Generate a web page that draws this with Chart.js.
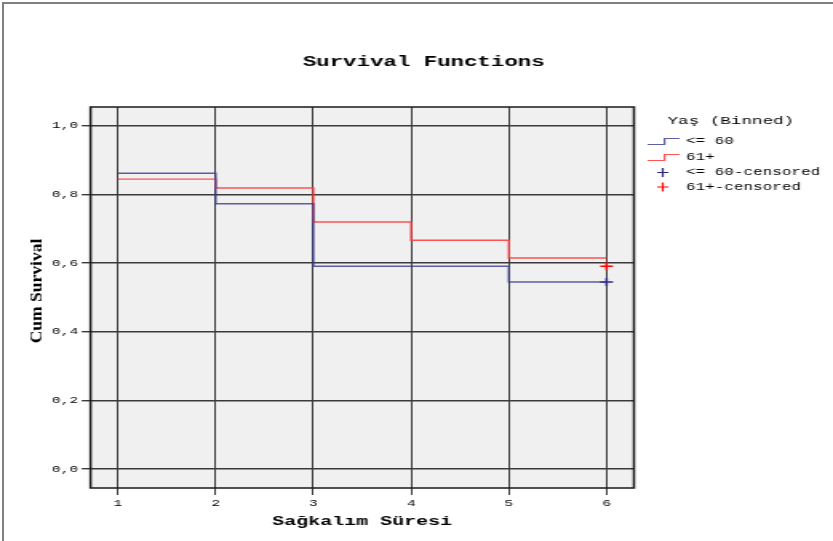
<!DOCTYPE html>
<html>
<head>
<meta charset="utf-8">
<script src="https://cdn.jsdelivr.net/npm/chart.js@4.4.0/dist/chart.umd.min.js"></script>
<style>
  html, body { margin: 0; padding: 0; background: #fff; overflow: hidden; }
  #frame { position: absolute; left: 2px; top: 2px; width: 831px; height: 539px;
           border-top: 2px solid #808080; border-left: 2px solid #808080;
           box-sizing: border-box; pointer-events: none; }
  #c { position: absolute; left: 0; top: 0; }
</style>
</head>
<body>
<!-- drawn narrow and stretched sideways, like the original export -->
<canvas id="c" width="521" height="541" style="width:833px;height:541px"></canvas>
<div id="frame"></div>
<script>
// survival time (x) and cumulative survival per age group
const times = [1, 2, 3, 4, 5, 6];
const survLow = [0.862, 0.773, 0.591, 0.591, 0.545, 0.545];   // <= 60
const survHigh = [0.845, 0.819, 0.720, 0.667, 0.615, 0.615];  // 61+
const censoredTimes = [6];
const censoredLow = [0.545];
const censoredHigh = [0.591];
const xTicks = [1, 2, 3, 4, 5, 6];
const yTicks = [0, 0.2, 0.4, 0.6, 0.8, 1.0];
const groupLabels = ["<= 60", "61+", "<= 60-censored", "61+-censored"];

const blueLine = "rgba(55, 55, 140, 0.8)";
const redLine = "rgba(255, 55, 55, 0.85)";
const blueMark = "#2a2a80";
const redMark = "#ff0000";

function points(xs, ys) {
  return xs.map(function (x, i) { return { x: x, y: ys[i] }; });
}

// background, plot frame, titles and the legend
const decor = {
  id: "decor",
  beforeDraw(chart) {
    const { ctx, chartArea: a } = chart;
    ctx.save();
    ctx.fillStyle = "#f0f0f0";
    ctx.fillRect(a.left, a.top, a.right - a.left, a.bottom - a.top);
    ctx.restore();
  },
  afterDraw(chart) {
    const { ctx, chartArea: a } = chart;
    ctx.save();
    ctx.strokeStyle = "#1a1a1a";
    ctx.lineWidth = 1.5;
    ctx.strokeRect(a.left, a.top, a.right - a.left, a.bottom - a.top);

    ctx.fillStyle = "#000";
    ctx.textBaseline = "middle";
    ctx.textAlign = "center";
    ctx.font = 'bold 14px "Liberation Mono"';
    ctx.fillText("Survival Functions", 265, 62);
    ctx.font = 'bold 12.5px "Liberation Mono"';
    ctx.fillText("Sağkalım Süresi", 226.4, 522);

    // y title, serif, stretched along its length
    ctx.save();
    ctx.translate(23.5, 291);
    ctx.rotate(-Math.PI / 2);
    ctx.scale(1.75, 1);
    ctx.font = 'bold 10px "Liberation Serif"';
    ctx.fillText("Cum Survival", 0, 0);
    ctx.restore();

    // legend
    ctx.textAlign = "left";
    ctx.font = '11px "Liberation Mono"';
    ctx.fillText("Yaş (Binned)", 417.5, 121);
    ctx.font = '10px "Liberation Mono"';
    const rows = [141.5, 157.5, 172.5, 187];
    const lineCols = [blueLine, redLine];
    ctx.lineWidth = 1.2;
    for (let i = 0; i < 2; i++) {
      const y = rows[i];
      ctx.strokeStyle = lineCols[i];
      ctx.beginPath();
      ctx.moveTo(405, y + 3);
      ctx.lineTo(415.6, y + 3);
      ctx.lineTo(415.6, y - 3);
      ctx.lineTo(425, y - 3);
      ctx.stroke();
    }
    const markCols = [blueMark, redMark];
    for (let i = 0; i < 2; i++) {
      const y = rows[i + 2];
      ctx.strokeStyle = markCols[i];
      ctx.beginPath();
      ctx.moveTo(411, y);
      ctx.lineTo(418, y);
      ctx.moveTo(414.5, y - 4.5);
      ctx.lineTo(414.5, y + 4.5);
      ctx.stroke();
    }
    for (let i = 0; i < 4; i++) {
      ctx.fillText(groupLabels[i], 429, rows[i]);
    }
    ctx.restore();
  }
};

const tickFont = { family: "Liberation Mono", size: 9 };

new Chart(document.getElementById("c").getContext("2d"), {
  type: "line",
  data: {
    datasets: [
      {
        label: groupLabels[0],
        data: points(times, survLow),
        borderColor: blueLine,
        borderWidth: 1.4,
        stepped: "before",
        pointRadius: 0,
        fill: false,
      },
      {
        label: groupLabels[1],
        data: points(times, survHigh),
        borderColor: redLine,
        borderWidth: 1.4,
        stepped: "before",
        pointRadius: 0,
        fill: false,
      },
      {
        label: groupLabels[2],
        data: points(censoredTimes, censoredLow),
        showLine: false,
        pointStyle: "cross",
        pointRadius: 4,
        borderColor: blueMark,
        borderWidth: 1.5,
      },
      {
        label: groupLabels[3],
        data: points(censoredTimes, censoredHigh),
        showLine: false,
        pointStyle: "cross",
        pointRadius: 4,
        borderColor: redMark,
        borderWidth: 1.5,
      },
    ],
  },
  options: {
    responsive: false,
    animation: false,
    devicePixelRatio: 1,
    layout: { padding: { left: 0, top: 107, right: 124.5, bottom: 23 } },
    plugins: {
      legend: { display: false },
      title: { display: false },
      tooltip: { enabled: false },
    },
    scales: {
      x: {
        type: "linear",
        min: 0.72,
        max: 6.28,
        afterBuildTicks: function (s) { s.ticks = xTicks.map(function (v) { return { value: v }; }); },
        afterFit: function (s) { s.height = 30; },
        grid: { color: "#3a3a3a", lineWidth: 1, tickLength: 7 },
        border: { display: false },
        ticks: {
          font: tickFont,
          color: "#000",
          padding: 3,
          maxRotation: 0,
          callback: function (v) { return String(v); },
        },
      },
      y: {
        type: "linear",
        min: -0.055,
        max: 1.055,
        afterBuildTicks: function (s) { s.ticks = yTicks.map(function (v) { return { value: v }; }); },
        afterFit: function (s) { s.width = 56.6; },
        grid: { color: "#3a3a3a", lineWidth: 1.4, tickLength: 5.5 },
        border: { display: false },
        ticks: {
          font: tickFont,
          color: "#000",
          padding: 2.3,
          callback: function (v) { return v.toFixed(1).replace(".", ","); },
        },
      },
    },
  },
  plugins: [decor],
});
</script>
</body>
</html>
